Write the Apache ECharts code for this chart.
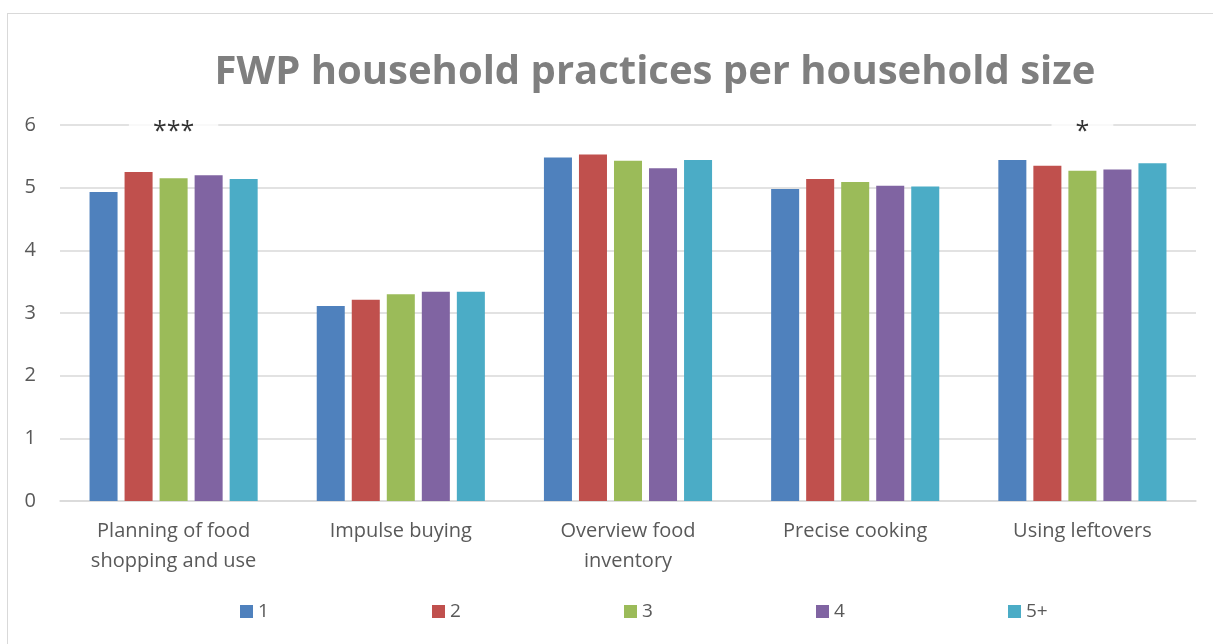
<!DOCTYPE html>
<html>
<head>
<meta charset="utf-8">
<script src="https://cdn.jsdelivr.net/npm/echarts@6/dist/echarts.min.js"></script>
<style>
  html, body { margin: 0; padding: 0; background: #fff; overflow: hidden; }
  #frame { position: absolute; left: 7px; top: 13px; width: 1240px; height: 700px;
           border: 1.5px solid #d9d9d9; box-sizing: border-box; }
  #chart { position: absolute; left: 0; top: 0; width: 1213px; height: 644px; }
</style>
</head>
<body>
<div id="frame"></div>
<div id="chart"></div>
<script>
// Food waste prevention practices, mean score by household size
const categories = [
  'Planning of food\nshopping and use',
  'Impulse buying',
  'Overview food\ninventory',
  'Precise cooking',
  'Using leftovers'
];
const seriesNames = ['1', '2', '3', '4', '5+'];
const size1  = [4.93, 3.11, 5.48, 4.98, 5.44];
const size2  = [5.25, 3.21, 5.53, 5.14, 5.35];
const size3  = [5.15, 3.30, 5.43, 5.09, 5.27];
const size4  = [5.20, 3.34, 5.31, 5.03, 5.29];
const size5p = [5.14, 3.34, 5.44, 5.02, 5.39];
// significance markers shown above each group
const significance = ['***', '', '', '', '*'];
const yTicks = [0, 1, 2, 3, 4, 5, 6];

const colors = ['#4F81BD', '#C0504D', '#9BBB59', '#8064A2', '#4BACC6'];
const values = [size1, size2, size3, size4, size5p];
const textFont = '"Open Sans", "Noto Sans", sans-serif';

const barSeries = seriesNames.map((name, i) => ({
  name: name,
  type: 'bar',
  data: values[i],
  barGap: '25%',
  barCategoryGap: '26%',
  itemStyle: { color: colors[i] },
  emphasis: { disabled: true }
}));

const markerSeries = {
  name: 'significance',
  type: 'scatter',
  symbolSize: 0,
  silent: true,
  z: 5,
  data: significance.map((s, i) => s ? [i, yTicks[yTicks.length - 1]] : null).filter(d => d),
  label: {
    show: true,
    position: 'inside',
    offset: [0, 7],
    formatter: p => significance[p.value[0]],
    color: '#000',
    fontFamily: textFont,
    fontSize: 25,
    backgroundColor: '#fff',
    padding: [0, 24]
  }
};

// one legend block per series, spread evenly along the bottom
const legends = seriesNames.map((name, i) => ({
  data: [name],
  left: 235 + i * 192,
  top: 597,
  itemWidth: 13,
  itemHeight: 13,
  icon: 'rect',
  selectedMode: false,
  textStyle: { fontFamily: textFont, fontSize: 19, color: '#595959' }
}));

const chart = echarts.init(document.getElementById('chart'), null, { renderer: 'canvas' });
chart.setOption({
  animation: false,
  backgroundColor: 'transparent',
  title: {
    text: 'FWP household practices per household size',
    left: 650,
    top: 48,
    textAlign: 'center',
    textStyle: {
      fontFamily: textFont,
      fontWeight: 'bold',
      fontSize: 40,
      color: '#7f7f7f'
    }
  },
  color: colors,
  legend: legends,
  grid: { left: 60, right: 17, top: 125, bottom: 143, containLabel: false },
  xAxis: {
    type: 'category',
    data: categories,
    axisLine: { show: true, lineStyle: { color: '#d9d9d9', width: 1.5 } },
    axisTick: { show: false },
    axisLabel: {
      margin: 15,
      fontFamily: textFont,
      fontSize: 20,
      lineHeight: 30,
      color: '#595959',
      interval: 0
    }
  },
  yAxis: {
    type: 'value',
    min: yTicks[0],
    max: yTicks[yTicks.length - 1],
    interval: 1,
    axisLine: { show: false },
    axisTick: { show: false },
    splitLine: { lineStyle: { color: '#d9d9d9', width: 1.5 } },
    axisLabel: {
      margin: 24,
      fontFamily: textFont,
      fontSize: 20,
      color: '#595959'
    }
  },
  series: [...barSeries, markerSeries]
});
</script>
</body>
</html>
